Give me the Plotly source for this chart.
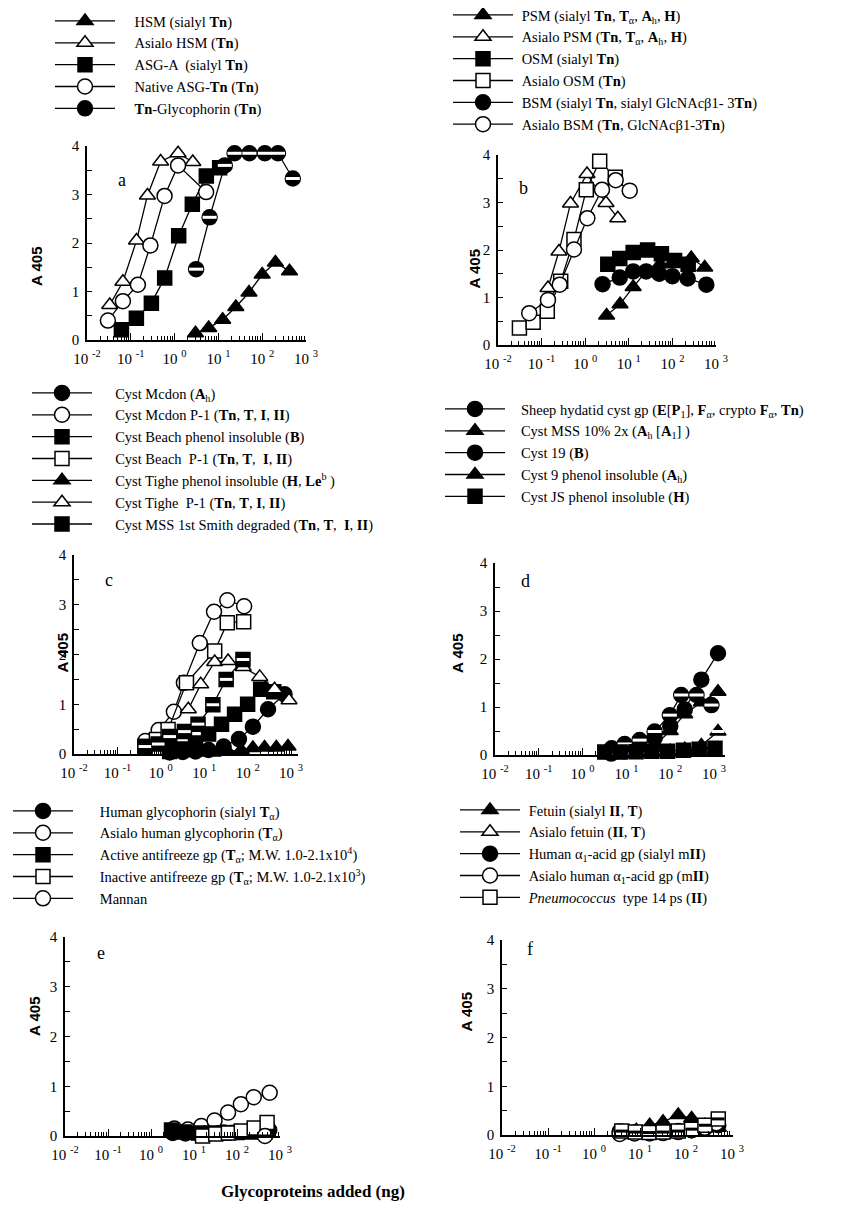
import plotly.graph_objects as go

W, H = 850, 1218

# ---------------------------------------------------------------------------
# Data (x = ng added, y = A405)
# ---------------------------------------------------------------------------
# panel a
a_hsm_x = [3, 6, 12.5, 25, 50, 100, 200, 420]
a_hsm_y = [0.14, 0.25, 0.42, 0.68, 0.98, 1.35, 1.6, 1.42]
a_ahsm_x = [0.033, 0.066, 0.135, 0.24, 0.48, 1.2, 2.6]
a_ahsm_y = [0.72, 1.2, 2.05, 2.98, 3.68, 3.85, 3.67]
a_asga_x = [0.061, 0.134, 0.295, 0.594, 1.24, 2.54, 5.3, 10.7]
a_asga_y = [0.21, 0.45, 0.76, 1.28, 2.15, 2.8, 3.38, 3.55]
a_nasg_x = [0.030, 0.066, 0.145, 0.28, 0.59, 1.2, 5.25]
a_nasg_y = [0.4, 0.8, 1.14, 1.95, 2.97, 3.6, 3.05]
a_tngly_x = [3.1, 6.3, 14, 23.4, 51, 115, 229, 500]
a_tngly_y = [1.46, 2.53, 3.6, 3.85, 3.85, 3.85, 3.85, 3.33]

# panel b
b_psm_x = [3.1, 6.3, 12.6, 25, 52, 107, 270, 550]
b_psm_y = [0.62, 0.86, 1.22, 1.55, 1.7, 1.75, 1.83, 1.63]
b_apsm_x = [0.14, 0.25, 0.46, 1.1, 3.0, 5.6]
b_apsm_y = [1.2, 1.97, 2.98, 3.6, 2.99, 2.67]
b_osm_x = [3.3, 6.2, 12.6, 27, 56, 112, 230]
b_osm_y = [1.7, 1.82, 1.95, 2.0, 1.92, 1.78, 1.7]
b_aosm_x = [0.031, 0.064, 0.135, 0.274, 0.553, 1.06, 2.15, 4.9]
b_aosm_y = [0.36, 0.48, 0.71, 1.34, 2.22, 3.27, 3.87, 3.53]
b_bsm_x = [2.5, 6.2, 12.6, 25, 50, 100, 224, 600]
b_bsm_y = [1.28, 1.42, 1.55, 1.55, 1.5, 1.45, 1.4, 1.27]
b_absm_x = [0.052, 0.14, 0.26, 0.553, 1.12, 2.43, 5.0, 10.5]
b_absm_y = [0.67, 0.95, 1.27, 2.01, 2.67, 3.27, 3.47, 3.25]

# panel c
c_mcdon_x = [1.6, 3.2, 6.3, 12.6, 28, 63, 132, 295, 708]
c_mcdon_y = [0.03, 0.04, 0.05, 0.08, 0.15, 0.3, 0.55, 0.9, 1.2]
c_mcdonp_x = [0.44, 0.89, 2.0, 3.4, 7.9, 16.8, 34, 83]
c_mcdonp_y = [0.26, 0.48, 0.85, 1.43, 2.23, 2.86, 3.09, 2.97]
c_beach_x = [1.6, 3.2, 6.3, 12.6, 25, 50, 100, 200, 400]
c_beach_y = [0.05, 0.1, 0.22, 0.4, 0.6, 0.8, 1.0, 1.3, 1.25]
c_beachp_x = [0.43, 0.79, 1.47, 3.9, 17.4, 34, 81]
c_beachp_y = [0.15, 0.29, 0.49, 1.43, 2.07, 2.64, 2.66]
c_tighe_x = [3.2, 7.1, 16, 35, 71, 132, 245, 457, 850]
c_tighe_y = [0.02, 0.03, 0.03, 0.05, 0.08, 0.12, 0.13, 0.13, 0.15]
c_tighep_x = [4.3, 8.3, 17.4, 35.5, 79, 190, 417, 900]
c_tighep_y = [0.9, 1.4, 1.85, 1.87, 1.75, 1.55, 1.3, 1.08]
c_mss_x = [0.43, 0.87, 1.6, 3.5, 7.2, 15.8, 32, 78]
c_mss_y = [0.15, 0.2, 0.35, 0.45, 0.6, 0.99, 1.5, 1.9]

# panel d
d_sheep_x = [4.5, 8.9, 20, 44, 100, 214, 513, 1230]
d_sheep_y = [0.03, 0.08, 0.18, 0.35, 0.6, 0.95, 1.57, 2.12]
d_mss_x = [4.5, 8.9, 20, 44, 100, 214, 513, 1230]
d_mss_y = [0.02, 0.04, 0.08, 0.2, 0.5, 0.85, 1.1, 1.32]
d_c19_x = [4.6, 9.1, 20, 44, 98, 178, 398, 871]
d_c19_y = [0.14, 0.23, 0.31, 0.49, 0.83, 1.25, 1.25, 1.04]
d_c9_x = [4.5, 8.9, 20, 44, 100, 214, 513, 1230]
d_c9_y = [0.02, 0.03, 0.05, 0.06, 0.08, 0.12, 0.2, 0.49]
d_js_x = [3.2, 7.2, 16.6, 38, 87, 200, 457, 1050]
d_js_y = [0.06, 0.06, 0.07, 0.08, 0.08, 0.1, 0.12, 0.14]

# panel e
e_hg_x = [3.2, 6.3, 12.6, 25, 50, 100, 224, 562]
e_hg_y = [0.06, 0.05, 0.05, 0.06, 0.07, 0.08, 0.1, 0.12]
e_ahg_x = [3.5, 7.2, 14.8, 30, 62, 123, 245, 575]
e_ahg_y = [0.15, 0.13, 0.2, 0.31, 0.47, 0.64, 0.78, 0.87]
e_aaf_x = [3.0, 6.0, 12.6, 25, 50, 100, 200, 447]
e_aaf_y = [0.12, 0.08, 0.06, 0.06, 0.06, 0.07, 0.08, 0.08]
e_iaf_x = [4.0, 7.9, 15.8, 32, 63, 126, 251, 501]
e_iaf_y = [-0.08, -0.05, 0.0, 0.04, 0.06, 0.1, 0.16, 0.27]
e_man_x = [6.3, 12.6, 25, 50, 100, 200, 447]
e_man_y = [-0.05, -0.05, -0.04, -0.04, -0.03, -0.02, 0.0]

# panel f
f_fet_x = [4.3, 8.3, 16.2, 31.6, 67.6, 132, 257, 501]
f_fet_y = [0.07, 0.1, 0.2, 0.27, 0.41, 0.34, 0.2, 0.15]
f_afet_x = [4.3, 8.3, 16.2, 31.6, 67.6, 132, 257, 501]
f_afet_y = [0.0, 0.0, -0.02, -0.02, -0.02, -0.02, -0.02, -0.02]
f_agp_x = [3.6, 7.6, 16.2, 31.6, 67.6, 132, 257, 501]
f_agp_y = [0.07, 0.05, 0.05, 0.06, 0.08, 0.1, 0.14, 0.2]
f_aagp_x = [3.6, 7.6, 16.2, 31.6, 67.6, 132, 257, 457]
f_aagp_y = [0.02, 0.03, 0.03, 0.04, 0.06, 0.1, 0.15, 0.24]
f_pn_x = [4.0, 7.9, 15.8, 31.6, 67.6, 132, 257, 501]
f_pn_y = [0.08, 0.06, 0.05, 0.06, 0.08, 0.12, 0.2, 0.33]

DECADES = [0.01, 0.1, 1, 10, 100, 1000]
DECADE_TEXT = ["10 <sup>-2</sup>", "10 <sup>-1</sup>", "10 <sup>0</sup>",
               "10 <sup>1</sup>", "10 <sup>2</sup>", "10 <sup>3</sup>"]
Y_TICKS = [0, 1, 2, 3, 4]

SERIF = "Liberation Serif"
SANS = "Liberation Sans"

# panel geometry in page pixels; leg = legend top-left, pad = spaces before legend text
PANELS = [
    dict(key="a", x0=79, x1=298, y4=138, y0=332, xr=[-2, 3],
         leg=(42, -3), pad=4, lab=(18, 237), letter=(108, 160)),
    dict(key="b", x0=490, x1=708, y4=147, y0=337, xr=[-2, 3],
         leg=(440, -9), pad=1, lab=(466, 240), letter=(515, 168)),
    dict(key="c", x0=66, x1=290, y4=547, y0=746, xr=[-2, 3.16],
         leg=(19, 369), pad=5, lab=(43, 645), letter=(95, 572)),
    dict(key="d", x0=487, x1=717, y4=555, y0=747, xr=[-2, 3.25],
         leg=(432, 385), pad=3, lab=(449, 645), letter=(517, 573)),
    dict(key="e", x0=57, x1=272, y4=929, y0=1128, xr=[-2, 3],
         leg=(0, 787), pad=6, lab=(16, 1030), letter=(87, 957)),
    dict(key="f", x0=494, x1=725, y4=932, y0=1127, xr=[-2, 3.02],
         leg=(447, 786), pad=1, lab=(458, 1026), letter=(522, 953)),
]

SYMBOLS = {
    "tri_f": ("triangle-up", "black", None),
    "tri_o": ("triangle-up", "white", None),
    "sq_f": ("square", "black", None),
    "sq_o": ("square", "white", None),
    "circ_f": ("circle", "black", None),
    "circ_o": ("circle", "white", None),
    "circ_s": ("circle", "black", "white"),
    "sq_s": ("square", "black", "white"),
    "sq_p": ("square", "white", "black"),
    "tri_s": ("triangle-up", "black", "white"),
    "circ_m": ("circle", "white", "black"),
}
SIZES = {"triangle-up": 14, "square": 14, "circle": 15}

fig = go.Figure()


def add_series(n, name, x, y, style):
    symbol, fill, stripe = SYMBOLS[style]
    size = SIZES[symbol]
    xa = "x" if n == 1 else f"x{n}"
    ya = "y" if n == 1 else f"y{n}"
    leg = "legend" if n == 1 else f"legend{n}"
    label = "&nbsp;" * PANELS[n - 1]["pad"] + name
    fig.add_trace(go.Scatter(
        x=x, y=y, name=label, mode="lines+markers", xaxis=xa, yaxis=ya, legend=leg,
        line=dict(color="black", width=1.3), cliponaxis=False,
        marker=dict(symbol=symbol, size=size, color=fill,
                    line=dict(color="black", width=1.5)),
    ))
    if stripe:
        # horizontal band across the marker
        fig.add_trace(go.Scatter(
            x=x, y=y, mode="markers", xaxis=xa, yaxis=ya, showlegend=False,
            cliponaxis=False, hoverinfo="skip",
            marker=dict(symbol="line-ew", size=size - 5, color=stripe,
                        line=dict(color=stripe, width=3)),
        ))


# panel a
add_series(1, "HSM (sialyl <b>Tn</b>)", a_hsm_x, a_hsm_y, "tri_f")
add_series(1, "Asialo HSM (<b>Tn</b>)", a_ahsm_x, a_ahsm_y, "tri_o")
add_series(1, "ASG-A  (sialyl <b>Tn</b>)", a_asga_x, a_asga_y, "sq_f")
add_series(1, "Native ASG-<b>Tn</b> (<b>Tn</b>)", a_nasg_x, a_nasg_y, "circ_o")
add_series(1, "<b>Tn</b>-Glycophorin (<b>Tn</b>)", a_tngly_x, a_tngly_y, "circ_s")

# panel b
add_series(2, "PSM (sialyl <b>Tn</b>, <b>T</b><sub>α</sub>, <b>A</b><sub>h</sub>, <b>H</b>)",
           b_psm_x, b_psm_y, "tri_f")
add_series(2, "Asialo PSM (<b>Tn</b>, <b>T</b><sub>α</sub>, <b>A</b><sub>h</sub>, <b>H</b>)",
           b_apsm_x, b_apsm_y, "tri_o")
add_series(2, "OSM (sialyl <b>Tn</b>)", b_osm_x, b_osm_y, "sq_f")
add_series(2, "Asialo OSM (<b>Tn</b>)", b_aosm_x, b_aosm_y, "sq_o")
add_series(2, "BSM (sialyl <b>Tn</b>, sialyl GlcNAcβ1- 3<b>Tn</b>)", b_bsm_x, b_bsm_y, "circ_f")
add_series(2, "Asialo BSM (<b>Tn</b>, GlcNAcβ1-3<b>Tn</b>)", b_absm_x, b_absm_y, "circ_o")

# panel c
add_series(3, "Cyst Mcdon (<b>A</b><sub>h</sub>)", c_mcdon_x, c_mcdon_y, "circ_f")
add_series(3, "Cyst Mcdon P-1 (<b>Tn</b>, <b>T</b>, <b>I</b>, <b>II</b>)", c_mcdonp_x, c_mcdonp_y, "circ_o")
add_series(3, "Cyst Beach phenol insoluble (<b>B</b>)", c_beach_x, c_beach_y, "sq_f")
add_series(3, "Cyst Beach  P-1 (<b>Tn</b>, <b>T</b>,  <b>I</b>, <b>II</b>)", c_beachp_x, c_beachp_y, "sq_o")
add_series(3, "Cyst Tighe phenol insoluble (<b>H</b>, <b>Le</b><sup>b</sup> )", c_tighe_x, c_tighe_y, "tri_f")
add_series(3, "Cyst Tighe  P-1 (<b>Tn</b>, <b>T</b>, <b>I</b>, <b>II</b>)", c_tighep_x, c_tighep_y, "tri_o")
add_series(3, "Cyst MSS 1st Smith degraded (<b>Tn</b>, <b>T</b>,  <b>I</b>, <b>II</b>)",
           c_mss_x, c_mss_y, "sq_s")

# panel d
add_series(4, "Sheep hydatid cyst gp (<b>E</b>[<b>P</b><sub>1</sub>], <b>F</b><sub>α</sub>, "
              "crypto <b>F</b><sub>α</sub>, <b>Tn</b>)", d_sheep_x, d_sheep_y, "circ_f")
add_series(4, "Cyst MSS 10% 2x (<b>A</b><sub>h</sub> [<b>A</b><sub>1</sub>] )", d_mss_x, d_mss_y, "tri_f")
add_series(4, "Cyst 19 (<b>B</b>)", d_c19_x, d_c19_y, "circ_s")
add_series(4, "Cyst 9 phenol insoluble (<b>A</b><sub>h</sub>)", d_c9_x, d_c9_y, "tri_s")
add_series(4, "Cyst JS phenol insoluble (<b>H</b>)", d_js_x, d_js_y, "sq_f")

# panel e
add_series(5, "Human glycophorin (sialyl <b>T</b><sub>α</sub>)", e_hg_x, e_hg_y, "circ_f")
add_series(5, "Asialo human glycophorin (<b>T</b><sub>α</sub>)", e_ahg_x, e_ahg_y, "circ_o")
add_series(5, "Active antifreeze gp (<b>T</b><sub>α</sub>; M.W. 1.0-2.1x10<sup>4</sup>)",
           e_aaf_x, e_aaf_y, "sq_f")
add_series(5, "Inactive antifreeze gp (<b>T</b><sub>α</sub>; M.W. 1.0-2.1x10<sup>3</sup>)",
           e_iaf_x, e_iaf_y, "sq_o")
add_series(5, "Mannan", e_man_x, e_man_y, "circ_m")

# panel f
add_series(6, "Fetuin (sialyl <b>II</b>, <b>T</b>)", f_fet_x, f_fet_y, "tri_f")
add_series(6, "Asialo fetuin (<b>II</b>, <b>T</b>)", f_afet_x, f_afet_y, "tri_o")
add_series(6, "Human α<sub>1</sub>-acid gp (sialyl m<b>II</b>)", f_agp_x, f_agp_y, "circ_f")
add_series(6, "Asialo human α<sub>1</sub>-acid gp (m<b>II</b>)", f_aagp_x, f_aagp_y, "circ_o")
add_series(6, "<i>Pneumococcus</i>  type 14 ps (<b>II</b>)", f_pn_x, f_pn_y, "sq_p")

minor_vals = [m * d for d in DECADES[:-1] for m in range(2, 10)]

layout = dict(
    width=W, height=H,
    margin=dict(l=0, r=0, t=0, b=0, autoexpand=False),
    paper_bgcolor="white", plot_bgcolor="white",
    font=dict(family=SERIF, color="black", size=15),
    showlegend=True,
    annotations=[],
)

for i, p in enumerate(PANELS, start=1):
    sfx = "" if i == 1 else str(i)
    layout["xaxis" + sfx] = dict(
        type="log", range=p["xr"], domain=[p["x0"] / W, p["x1"] / W],
        anchor="y" + sfx, showline=True, linecolor="black", linewidth=1.5,
        ticks="inside", ticklen=7, tickwidth=1.3, tickcolor="black",
        tickmode="array", tickvals=DECADES, ticktext=DECADE_TEXT,
        tickfont=dict(family=SERIF, size=15, color="black"), ticklabelstandoff=4,
        showgrid=False, zeroline=False, fixedrange=True,
        minor=dict(tickmode="array", tickvals=minor_vals, ticks="inside", ticklen=4,
                   tickwidth=1, tickcolor="black", showgrid=False),
    )
    layout["yaxis" + sfx] = dict(
        range=[0, 4], domain=[1 - p["y0"] / H, 1 - p["y4"] / H],
        anchor="x" + sfx, showline=True, linecolor="black", linewidth=1.5,
        ticks="inside", ticklen=5, tickwidth=1.3, tickcolor="black",
        tickmode="array", tickvals=Y_TICKS,
        tickfont=dict(family=SERIF, size=15, color="black"), ticklabelstandoff=3,
        showgrid=False, zeroline=False, fixedrange=True,
        minor=dict(dtick=0.5, ticks="inside", ticklen=5, tickwidth=1.3,
                   tickcolor="black", showgrid=False),
    )
    layout["legend" + sfx] = dict(
        x=p["leg"][0] / W, y=1 - p["leg"][1] / H, xanchor="left", yanchor="top",
        bgcolor="rgba(0,0,0,0)", borderwidth=0, itemwidth=60, itemsizing="trace",
        tracegroupgap=0, font=dict(family=SERIF, size=14.5, color="black"),
    )
    layout["annotations"].append(dict(
        text="<b>A 405</b>", x=p["lab"][0] / W, y=1 - p["lab"][1] / H,
        xref="paper", yref="paper", showarrow=False, textangle=-90,
        font=dict(family=SANS, size=15, color="black")))
    layout["annotations"].append(dict(
        text=p["key"], x=p["letter"][0] / W, y=1 - p["letter"][1] / H,
        xref="paper", yref="paper", showarrow=False,
        font=dict(family=SERIF, size=18, color="black")))

layout["annotations"].append(dict(
    text="<b>Glycoproteins added (ng)</b>", x=305 / W, y=1 - 1195 / H,
    xref="paper", yref="paper", showarrow=False,
    font=dict(family=SERIF, size=17, color="black")))

fig.update_layout(layout)
fig.write_html("out.html")
